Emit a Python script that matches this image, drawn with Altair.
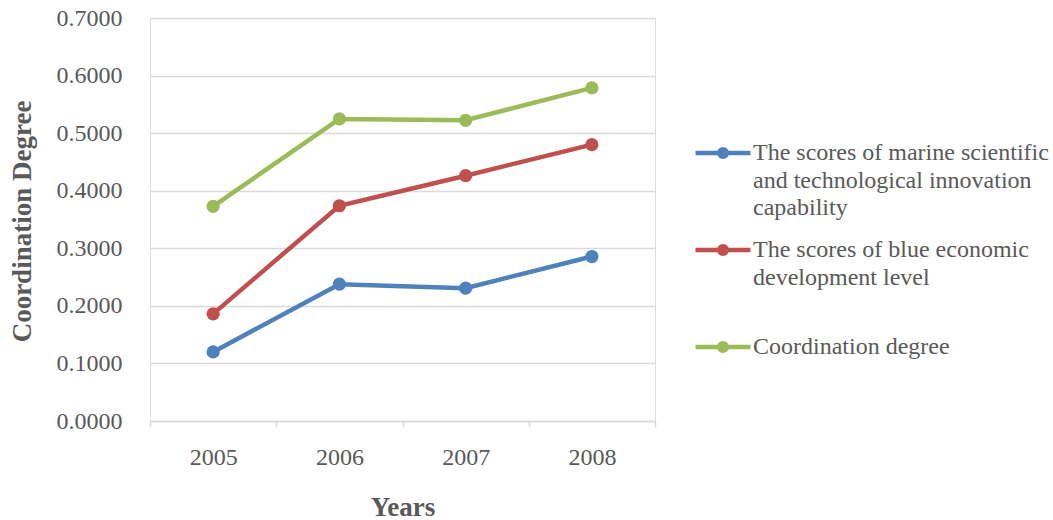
import altair as alt
import pandas as pd

years = ["2005", "2006", "2007", "2008"]
series_names = [
    "The scores of marine scientific|and technological innovation|capability",
    "The scores of blue economic|development level|",
    "Coordination degree",
]
innovation = [0.1200, 0.2377, 0.2307, 0.2857]
blue_economy = [0.1861, 0.3739, 0.4261, 0.4800]
coordination = [0.3727, 0.5247, 0.5223, 0.5786]
colors = ["#4F81BD", "#C0504D", "#9BBB59"]
y_ticks = [0.0, 0.1, 0.2, 0.3, 0.4, 0.5, 0.6, 0.7]

rows = []
for name, vals in zip(series_names, [innovation, blue_economy, coordination]):
    for yr, v in zip(years, vals):
        rows.append({"year": yr, "series": name, "value": v})
df = pd.DataFrame(rows)

FONT = "Liberation Serif"
TXT = "#595959"
GRID = "#D9D9D9"

# stroked legend symbol: horizontal line with a dot (two concentric rings fill the dot)
sym_path = ("M-1,0H1 "
            "M-0.14,0A0.14,0.14 0 1,1 0.14,0A0.14,0.14 0 1,1 -0.14,0 "
            "M-0.06,0A0.06,0.06 0 1,1 0.06,0A0.06,0.06 0 1,1 -0.06,0")

chart = alt.Chart(df).mark_line(
    strokeWidth=4.5,
    point=alt.OverlayMarkDef(filled=True, size=175, opacity=1),
).encode(
    x=alt.X(
        "year:N",
        sort=years,
        scale=alt.Scale(paddingInner=0, paddingOuter=0),
        axis=alt.Axis(
            title="Years",
            titleFont=FONT, titleFontSize=27, titleFontWeight="bold", titleColor=TXT,
            titleBaseline="alphabetic", titleY=94,
            labelFont=FONT, labelFontSize=24, labelColor=TXT, labelAngle=0,
            labelPadding=18, labelBaseline="top",
            tickBand="extent", tickSize=6, tickColor=GRID, tickWidth=1.5,
            domainColor=GRID, domainWidth=1.5, grid=False,
        ),
    ),
    y=alt.Y(
        "value:Q",
        scale=alt.Scale(domain=[0, 0.7], nice=False, zero=True),
        axis=alt.Axis(
            title="Coordination Degree",
            titleFont=FONT, titleFontSize=27, titleFontWeight="bold", titleColor=TXT,
            titleAngle=-90, titleX=-128, titleY=203, titleAlign="center", titleBaseline="middle",
            values=y_ticks, format=".4f",
            labelFont=FONT, labelFontSize=24, labelColor=TXT, labelPadding=28,
            ticks=False, tickSize=0, domain=False,
            grid=True, gridColor=GRID, gridWidth=1.5,
        ),
    ),
    color=alt.Color(
        "series:N", sort=series_names,
        scale=alt.Scale(domain=series_names, range=colors),
        legend=alt.Legend(
            title=None, orient="none", legendX=543, legendY=105,
            symbolType=sym_path, symbolSize=3025, symbolStrokeWidth=4.5,
            labelFont=FONT, labelFontSize=24, labelColor=TXT,
            labelExpr="split(datum.label, '|')", labelLimit=400,
            labelBaseline="middle", labelOffset=0, rowPadding=-3,
        ),
    ),
).properties(
    width=505, height=403,
    autosize=alt.AutoSizeParams(type="none"),
    padding={"left": 150, "top": 18, "right": 398, "bottom": 99},
).configure_view(strokeWidth=0).configure(
    style={"guide-label": {"lineHeight": 27.5}}
)

chart.save("out.html", embed_options={"renderer": "svg", "actions": False})
